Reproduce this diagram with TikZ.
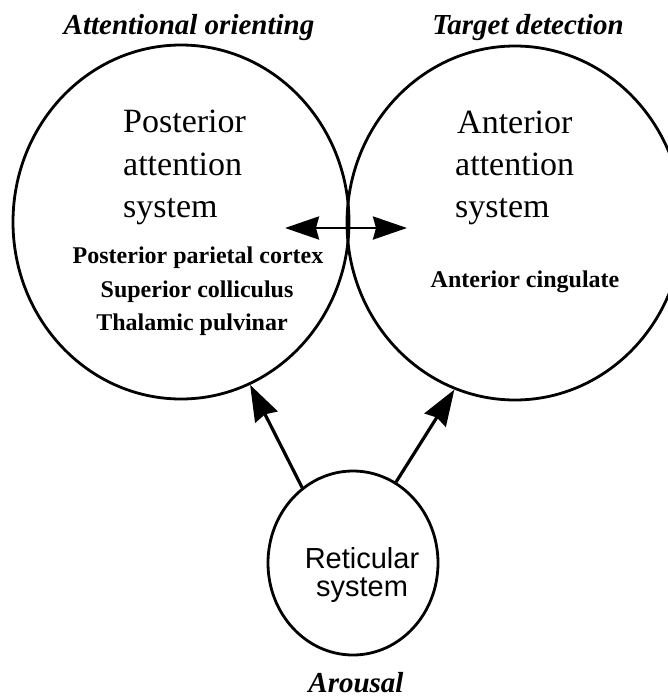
\documentclass[tikz,border=0pt]{standalone}
\usepackage{fontspec}
\setmainfont{Liberation Serif}
\newfontfamily\labelsans{Liberation Sans}
\usetikzlibrary{arrows.meta,shapes.geometric}
\begin{document}
\begin{tikzpicture}[x=1pt,y=-1pt,
  ring/.style={draw, shape=ellipse, line width=2.8pt, inner sep=0pt},
  link/.style={line width=3.2pt, -{Stealth[length=36pt,width=25pt,inset=3pt]}},
  twoway/.style={line width=2.6pt, {Stealth[length=34pt,width=23pt,inset=3pt]}-{Stealth[length=34pt,width=23pt,inset=3pt]}},
  heading/.style={font=\fontsize{29}{34}\selectfont\bfseries\itshape, anchor=base, inner sep=0pt},
  big/.style={font=\fontsize{34}{40}\selectfont, anchor=base west, inner sep=0pt},
  small/.style={font=\fontsize{24}{28}\selectfont\bfseries, anchor=base, inner sep=0pt},
  sans/.style={font=\labelsans\fontsize{29}{34}\selectfont, anchor=base, inner sep=0pt},
]
\useasboundingbox (0,0) rectangle (668,697);
\begin{scope}
\clip (0,0) rectangle (668,697);

% the three systems
\node[ring, minimum width=336pt, minimum height=354pt] (post) at (181,222) {};
\node[ring, minimum width=336pt, minimum height=354pt] (ant) at (515,223) {};
\node[ring, minimum width=170pt, minimum height=184pt] (ret) at (353,563) {};

% headings
\node[heading] (hpost) at (189,34) {Attentional orienting};
\node[heading] (hant) at (528,34) {Target detection};
\node[heading] (hret) at (356,692) {Arousal};

% posterior system text
\node[big] (p1) at (123,132) {Posterior};
\node[big] (p2) at (123,175) {attention};
\node[big] (p3) at (123,217) {system};
\node[small] (p4) at (198,263) {Posterior parietal cortex};
\node[small] (p5) at (197,297) {Superior colliculus};
\node[small] (p6) at (192,330) {Thalamic pulvinar};

% anterior system text
\node[big] (a1) at (457,133) {Anterior};
\node[big] (a2) at (455,175) {attention};
\node[big] (a3) at (455,217) {system};
\node[small] (a4) at (525,287) {Anterior cingulate};

% reticular system text
\node[sans] (r1) at (362,568) {Reticular};
\node[sans] (r2) at (362,596) {system};

% connections
\coordinate (dl) at (285,228);
\coordinate (dr) at (407,228);
\draw[twoway] (dl) -- (dr);
\draw[link] (ret.124.5) -- (post.-67.3);
\draw[link] (ret.62.6) -- (ant.-110.4);
\end{scope}
\end{tikzpicture}
\end{document}
